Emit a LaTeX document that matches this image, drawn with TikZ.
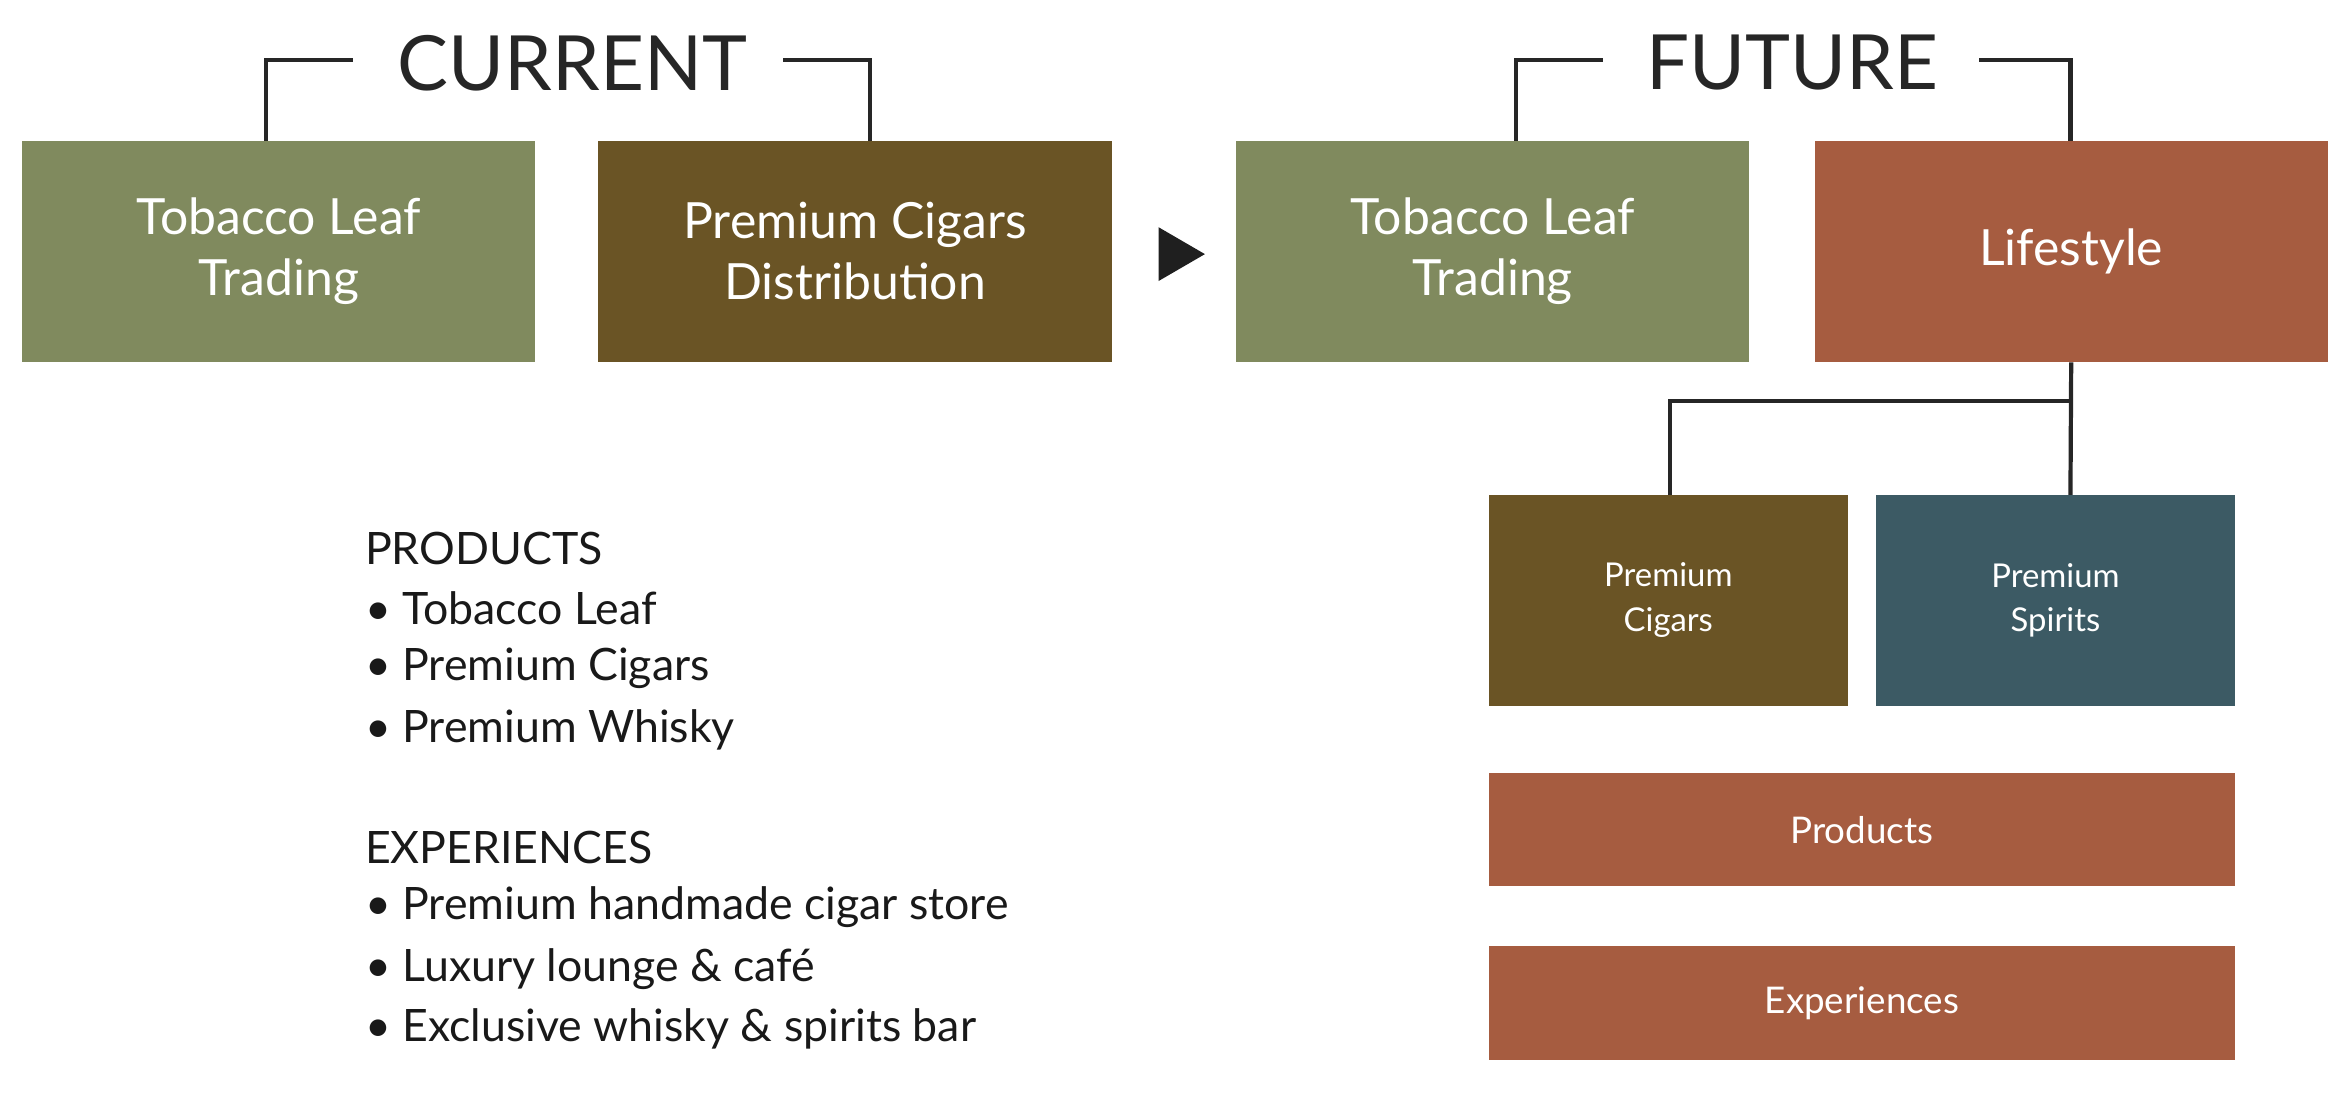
\documentclass[tikz,border=0pt]{standalone}
\usepackage{fontspec}
\setmainfont{Lato}
\begin{document}
\begin{tikzpicture}[x=0.02cm,y=-0.02cm,
 box/.style={draw=none,inner sep=0pt,text=white,align=center,font=\fontsize{19}{23}\selectfont},
 small/.style={box,font=\fontsize{12.5}{17}\selectfont},
 mid/.style={box,font=\fontsize{14}{17}\selectfont},
 conn/.style={line width=1.6pt,black!85},
 head/.style={font=\fontsize{29}{32}\selectfont,text=black!85},
 lst/.style={anchor=west,font=\fontsize{17}{24}\selectfont,text=black!90,align=left}]
\definecolor{green1}{HTML}{808A5E}
\definecolor{brown1}{HTML}{6A5425}
\definecolor{rust}{HTML}{A65C40}
\definecolor{teal1}{HTML}{3C5A64}
\useasboundingbox (0,0) rectangle (1568,732);
\node[box,fill=green1,minimum width=343*0.02cm,minimum height=148*0.02cm] (a) at (186.5,168) {Tobacco Leaf\\Trading};
\node[box,fill=brown1,minimum width=344*0.02cm,minimum height=148*0.02cm] (b) at (572,168) {Premium Cigars\\Distribution};
\node[box,fill=green1,minimum width=343*0.02cm,minimum height=148*0.02cm] (c) at (998.5,168) {Tobacco Leaf\\Trading};
\node[box,fill=rust,minimum width=343*0.02cm,minimum height=148*0.02cm] (d) at (1385.5,168) {Lifestyle};
\fill[black!88] (775,152) -- (806,170) -- (775,188) -- cycle;
\node[head] (cur) at (383,42) {CURRENT};
\node[head] (fut) at (1199,42) {FUTURE};
\draw[conn] (178,94) -- (178,40) -- (236,40);
\draw[conn] (524,40) -- (582,40) -- (582,94);
\draw[conn] (1014,94) -- (1014,40) -- (1072,40);
\draw[conn] (1324,40) -- (1385,40) -- (1385,94);
\node[small,fill=brown1,minimum width=240*0.02cm,minimum height=141*0.02cm] (e) at (1116,401.5) {Premium\\Cigars};
\node[small,fill=teal1,minimum width=240*0.02cm,minimum height=141*0.02cm] (f) at (1375,401.5) {Premium\\Spirits};
\draw[conn] (d.south) -- (1385,331);
\draw[conn] (1385,268) -- (1117,268) -- (1117,331);
\node[mid,fill=rust,minimum width=499*0.02cm,minimum height=76*0.02cm] (g) at (1245.5,555) {Products};
\node[mid,fill=rust,minimum width=499*0.02cm,minimum height=76*0.02cm] (h) at (1245.5,671) {Experiences};
\node[lst] (p) at (238,367) {PRODUCTS};
\node[lst] (p1) at (238,407) {• Tobacco Leaf};
\node[lst] (p2) at (238,447) {• Premium Cigars};
\node[lst] (p3) at (238,488) {• Premium Whisky};
\node[lst] (x) at (238,567) {EXPERIENCES};
\node[lst] (x1) at (238,607) {• Premium handmade cigar store};
\node[lst] (x2) at (238,648) {• Luxury lounge \& café};
\node[lst] (x3) at (238,688) {• Exclusive whisky \& spirits bar};
\end{tikzpicture}
\end{document}
